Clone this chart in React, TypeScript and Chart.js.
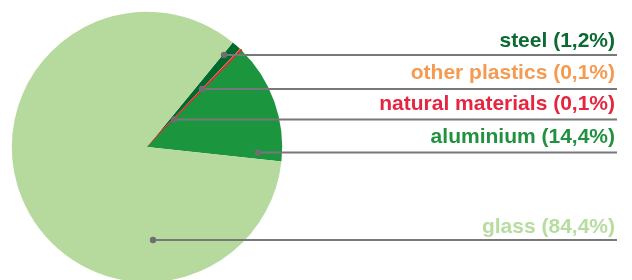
import React, { useEffect, useRef } from "react";
import { Chart, registerables } from "chart.js";

Chart.register(...registerables);

const categories = ["steel", "other plastics", "natural materials", "aluminium", "glass"];
const shares = [1.2, 0.1, 0.1, 14.4, 84.4];
const sliceColors = ["#006a2e", "#f7994d", "#e5213e", "#1b963f", "#b6da9e"];
const textColors = ["#0b6a32", "#f59a50", "#e52640", "#21913f", "#b7dca0"];
const sliceBorders = [0, 1.6, 1.6, 0, 0];

// layout: leader dot offsets from pie centre and label baselines
const dotOffsets: [number, number][] = [
  [77, -92],
  [55, -58],
  [27, -27.5],
  [111, 5.5],
  [6, 93],
];
const baselineGap = [8.5, 10, 10, 10, 7.5];
const lineRight = 617;

const leaderPlugin = {
  id: "leaders",
  afterDatasetsDraw(chart: any) {
    const ctx = chart.ctx;
    const meta = chart.getDatasetMeta(0);
    const arc = meta.data[0];
    const cx = arc.x;
    const cy = arc.y;
    ctx.save();
    categories.forEach((cat, i) => {
      const [dx, dy] = dotOffsets[i];
      const x = cx + dx;
      const y = cy + dy;
      ctx.strokeStyle = "#787878";
      ctx.lineWidth = 2;
      ctx.beginPath();
      ctx.moveTo(x, y);
      ctx.lineTo(lineRight, y);
      ctx.stroke();
      ctx.fillStyle = "#6e6e6e";
      ctx.beginPath();
      ctx.arc(x, y, 3.2, 0, Math.PI * 2);
      ctx.fill();
      ctx.fillStyle = textColors[i];
      ctx.font = "bold 21px 'Liberation Sans', Arial, sans-serif";
      ctx.textAlign = "right";
      ctx.textBaseline = "alphabetic";
      const txt = `${cat} (${shares[i].toFixed(1).replace(".", ",")}%)`;
      ctx.fillText(txt, lineRight - 2, y - baselineGap[i]);
    });
    ctx.restore();
  },
};

export default function App() {
  const ref = useRef<HTMLCanvasElement>(null);
  useEffect(() => {
    document.body.style.margin = "0";
    const chart = new Chart(ref.current!, {
      type: "pie",
      data: {
        labels: categories,
        datasets: [
          {
            data: shares,
            backgroundColor: sliceColors,
            borderColor: sliceColors,
            borderWidth: sliceBorders,
          },
        ],
      },
      options: {
        animation: false,
        responsive: false,
        rotation: 39.4,
        layout: { padding: { left: 11, top: 11, right: 349, bottom: 17 } },
        plugins: { legend: { display: false }, tooltip: { enabled: false } },
      },
      plugins: [leaderPlugin],
    });
    return () => chart.destroy();
  }, []);
  return (
    <div style={{ width: 632, height: 280, overflow: "hidden", background: "#fff" }}>
      <canvas ref={ref} width={632} height={300} style={{ display: "block" }} />
    </div>
  );
}
